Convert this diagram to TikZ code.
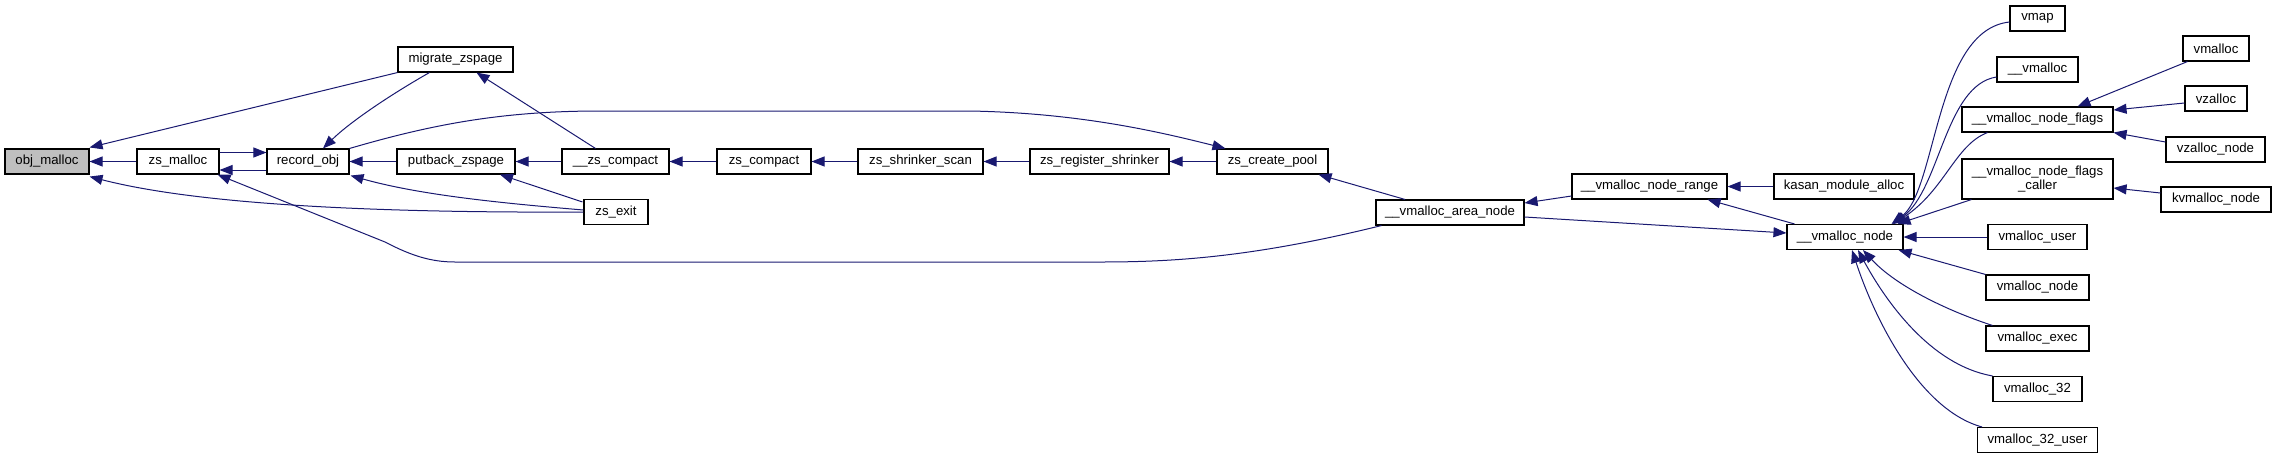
\documentclass[tikz,border=0pt]{standalone}
\usepackage{fontspec}
\setmainfont{Liberation Sans}
\usetikzlibrary{arrows.meta}
\definecolor{edgeblue}{HTML}{191970}
\definecolor{rootgray}{HTML}{BFBFBF}
\begin{document}
\begin{tikzpicture}[x=1pt,y=-1pt,
  fn/.style={draw=black, line width=1.1pt, fill=white, inner sep=0pt, minimum height=25pt,
             font=\fontsize{13.2}{13.5}\selectfont, align=center},
  rootfn/.style={fn, fill=rootgray},
  edge/.style={draw=edgeblue, line width=1pt, -{Triangle[length=13pt,width=10pt]}}]
\useasboundingbox (0,0) rectangle (2276,459);

% nodes
\node[rootfn, minimum width=84pt] (objmalloc) at (47,161.5) {obj\_malloc};
\node[fn, minimum width=82pt] (zsmalloc) at (178,161.5) {zs\_malloc};
\node[fn, minimum width=82pt] (recordobj) at (308,161.5) {record\_obj};
\node[fn, minimum width=115pt] (migrate) at (455.5,59.5) {migrate\_zspage};
\node[fn, minimum width=118pt] (putback) at (456,161.5) {putback\_zspage};
\node[fn, minimum width=107pt] (uzscompact) at (615.5,161.5) {\_\_zs\_compact};
\node[fn, minimum width=64pt] (zsexit) at (616,212) {zs\_exit};
\node[fn, minimum width=94pt] (zscompact) at (764,161.5) {zs\_compact};
\node[fn, minimum width=125pt] (shrinkscan) at (920.5,161.5) {zs\_shrinker\_scan};
\node[fn, minimum width=139pt] (regshrink) at (1099.5,161.5) {zs\_register\_shrinker};
\node[fn, minimum width=111pt] (createpool) at (1272.5,161.5) {zs\_create\_pool};
\node[fn, minimum width=148pt] (areanode) at (1450,212.5) {\_\_vmalloc\_area\_node};
\node[fn, minimum width=155pt] (noderange) at (1649.5,186.5) {\_\_vmalloc\_node\_range};
\node[fn, minimum width=140pt] (kasan) at (1844,186.5) {kasan\_module\_alloc};
\node[fn, minimum width=116pt] (vnode) at (1845,237) {\_\_vmalloc\_node};
\node[fn, minimum width=55pt] (vmap) at (2037.5,18.5) {vmap};
\node[fn, minimum width=81pt] (uvmalloc) at (2037.5,69.5) {\_\_vmalloc};
\node[fn, minimum width=151pt] (flags) at (2037.5,119.5) {\_\_vmalloc\_node\_flags};
\node[fn, minimum width=151pt, minimum height=40pt] (caller) at (2037.5,179) {\_\_vmalloc\_node\_flags\\\_caller};
\node[fn, minimum width=66pt] (vmalloc) at (2216,48.5) {vmalloc};
\node[fn, minimum width=62pt] (vzalloc) at (2216,98.5) {vzalloc};
\node[fn, minimum width=99pt] (vzallocnode) at (2215.5,149.5) {vzalloc\_node};
\node[fn, minimum width=110pt] (kvmalloc) at (2216,199.5) {kvmalloc\_node};
\node[fn, minimum width=99pt] (vuser) at (2037.5,237) {vmalloc\_user};
\node[fn, minimum width=103pt] (vmnode) at (2037.5,287.5) {vmalloc\_node};
\node[fn, minimum width=103pt] (vexec) at (2037.5,338.5) {vmalloc\_exec};
\node[fn, minimum width=89pt] (v32) at (2037.5,389) {vmalloc\_32};
\node[fn, minimum width=120pt] (v32user) at (2037.5,440) {vmalloc\_32\_user};

% edges into obj_malloc
\draw[edge] (migrate.south west) -- ([yshift=1pt]objmalloc.north east);
\draw[edge] (zsmalloc.west) -- (objmalloc.east);
\draw[edge] (zsexit.west) .. controls (380,213) and (200,205) .. ([yshift=-2pt]objmalloc.south east);

% zs_malloc <-> record_obj
\draw[edge] ([yshift=9pt]zsmalloc.east) -- ([yshift=9pt]recordobj.west);
\draw[edge] ([yshift=-8.5pt]recordobj.west) -- ([yshift=-8.5pt]zsmalloc.east);

% __vmalloc_area_node -> zs_malloc
\draw[edge] ([xshift=6pt]areanode.south west) .. controls (1250,258) and (1170,262) .. (1100,262)
  -- (455,262) .. controls (430,262) and (410,255) .. (385,242) -- ([xshift=-2pt]zsmalloc.south east);

% into record_obj
\draw[edge] ([xshift=32pt]migrate.south west) .. controls (390,95) and (350,122) .. ([xshift=15pt]recordobj.north);
\draw[edge] (putback.west) -- (recordobj.east);
\draw[edge] ([yshift=2pt]zsexit.west) .. controls (500,203) and (420,195) .. ([xshift=1pt,yshift=-1pt]recordobj.south east);

% record_obj -> zs_create_pool
\draw[edge] (recordobj.north east) .. controls (430,125) and (500,111) .. (600,111)
  -- (970,111) .. controls (1080,113) and (1160,132) .. ([xshift=9pt]createpool.north west);

% zs chain
\draw[edge] (uzscompact.west) -- (putback.east);
\draw[edge] ([xshift=-20pt]uzscompact.north) -- ([xshift=21pt]migrate.south);
\draw[edge] ([xshift=-1pt,yshift=-3pt]zsexit.north west) -- ([xshift=44pt]putback.south);
\draw[edge] (zscompact.west) -- (uzscompact.east);
\draw[edge] (shrinkscan.west) -- (zscompact.east);
\draw[edge] (regshrink.west) -- (shrinkscan.east);
\draw[edge] (createpool.west) -- (regshrink.east);

% vmalloc area
\draw[edge] ([xshift=-45pt]areanode.north) -- ([xshift=-10pt]createpool.south east);
\draw[edge] ([yshift=-9.5pt]noderange.west) -- ([yshift=9.5pt]areanode.east);
\draw[edge] ([yshift=-4.5pt]areanode.east) -- ([yshift=4pt]vnode.west);
\draw[edge] (kasan.west) -- (noderange.east);
\draw[edge] ([xshift=8pt]vnode.north west) -- ([xshift=-20pt]noderange.south east);

% into __vmalloc_node from above
\draw[edge] ([yshift=-3.5pt]vmap.west) .. controls (1935,30) and (1937,190) .. ([xshift=-12pt]vnode.north east);
\draw[edge] ([yshift=-7.5pt]uvmalloc.west) .. controls (1945,85) and (1940,190) .. ([xshift=-11pt]vnode.north east);
\draw[edge] ([xshift=26pt]flags.south west) .. controls (1955,145) and (1945,190) .. ([xshift=-10pt]vnode.north east);
\draw[edge] ([xshift=10pt]caller.south west) -- ([xshift=-6pt]vnode.north east);

% into __vmalloc_node from right / below
\draw[edge] (vuser.west) -- (vnode.east);
\draw[edge] (vmnode.north west) -- ([xshift=-5pt]vnode.south east);
\draw[edge] ([xshift=7pt]vexec.north west) .. controls (1945,310) and (1895,285) .. ([xshift=18pt]vnode.south);
\draw[edge] (v32.north west) .. controls (1930,365) and (1885,300) .. ([xshift=13pt]vnode.south);
\draw[edge] ([xshift=5pt]v32user.north west) .. controls (1920,410) and (1875,320) .. ([xshift=7pt]vnode.south);

% into __vmalloc_node_flags and caller
\draw[edge] ([xshift=5pt]vmalloc.south west) -- ([xshift=40pt]flags.north);
\draw[edge] ([yshift=-4.5pt]vzalloc.west) -- ([yshift=9.5pt]flags.east);
\draw[edge] ([yshift=7.5pt]vzallocnode.west) -- (flags.south east);
\draw[edge] ([yshift=6.5pt]kvmalloc.west) -- ([yshift=-9pt]caller.east);
\end{tikzpicture}
\end{document}
